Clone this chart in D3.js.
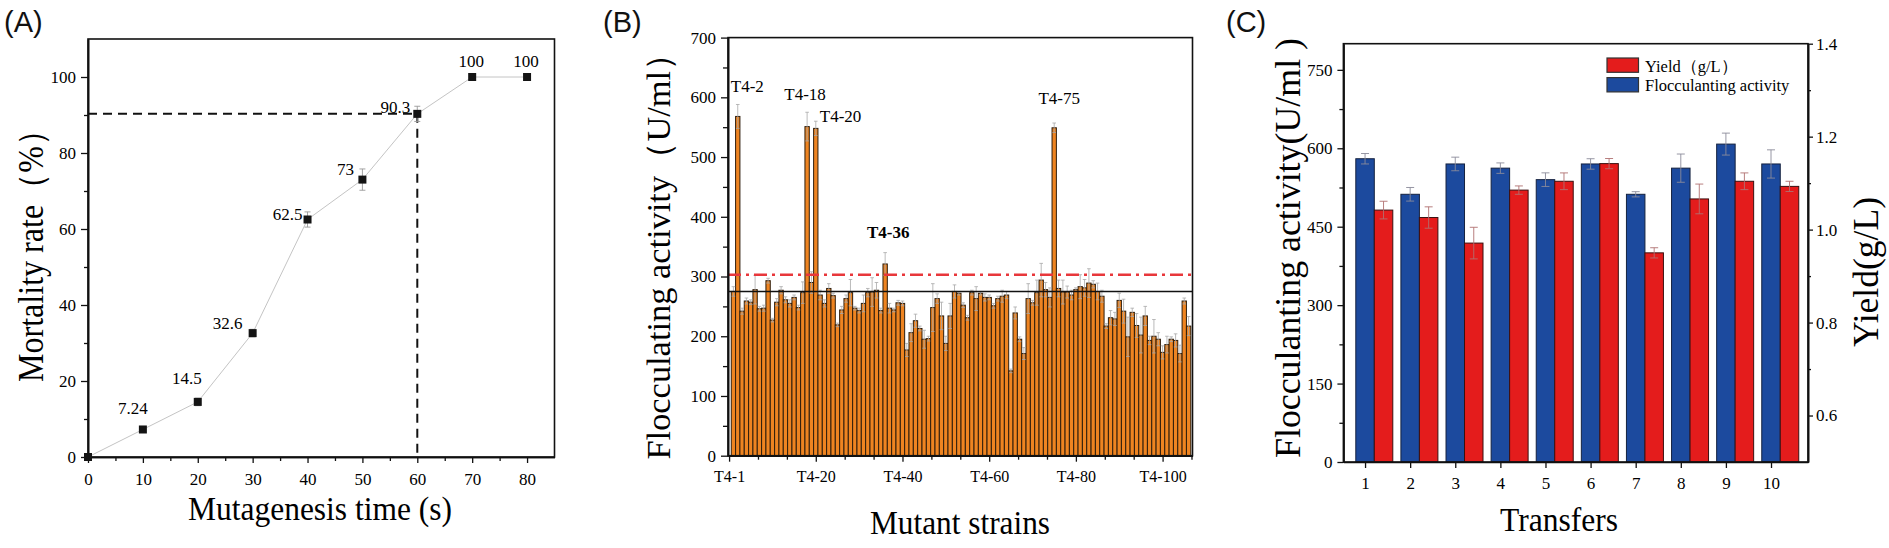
<!DOCTYPE html>
<html><head><meta charset="utf-8">
<script src="https://cdn.jsdelivr.net/npm/d3@7"></script>
<style>
body{margin:0;background:#fff}
svg{display:block}
text{font-family:"Liberation Serif","Times New Roman",serif;fill:#000}
.axis text{font-size:17px}
.axis .domain{stroke:#111;stroke-width:1.6}
.axis line{stroke:#111;stroke-width:1.3}
.plab{font-family:"Liberation Sans",Arial,sans-serif;font-size:29px;fill:#111}
</style>
</head><body>
<svg id="c" width="1889" height="548"></svg>
<script>
// ---------- Panel A data ----------
const mutaTime = [0, 10, 20, 30, 40, 50, 60, 70, 80];
const mortality = [0, 7.24, 14.5, 32.6, 62.5, 73, 90.3, 100, 100];
const mortalityErr = [0.5, 0.8, 1, 1, 2, 2.8, 2, 0.6, 0.6];
const mortalityLabels = ["", "7.24", "14.5", "32.6", "62.5", "73", "90.3", "100", "100"];
const xTicksA = [0, 10, 20, 30, 40, 50, 60, 70, 80];
const yTicksA = [0, 20, 40, 60, 80, 100];
const cutoffTime = 60;

// ---------- Panel B data ----------
const strainActivity = [
  275, 568, 242, 259, 257, 278, 246, 247, 293, 227,
  257, 277, 261, 255, 265, 248, 273, 551, 290, 548,
  269, 255, 280, 268, 219, 244, 263, 273, 247, 243,
  255, 273, 274, 277, 243, 321, 247, 244, 256, 255,
  177, 206, 226, 213, 195, 196, 248, 263, 234, 188,
  234, 275, 272, 252, 231, 273, 263, 272, 265, 265,
  251, 263, 267, 269, 142, 239, 195, 171, 263, 256,
  273, 294, 278, 265, 549, 280, 274, 274, 269, 278,
  283, 281, 289, 287, 275, 267, 217, 231, 229, 260,
  242, 199, 240, 218, 202, 234, 193, 200, 195, 173,
  186, 195, 193, 171, 259, 217];
const strainErr = [
  8, 20, 5, 5, 4, 24, 4, 5, 4, 3,
  6, 6, 5, 6, 4, 4, 18, 24, 18, 12,
  8, 6, 8, 4, 3, 6, 6, 22, 3, 4,
  14, 7, 24, 13, 4, 19, 8, 3, 4, 4,
  11, 15, 11, 4, 15, 4, 40, 8, 23, 12,
  21, 11, 3, 4, 4, 4, 20, 3, 6, 4,
  4, 4, 10, 6, 3, 10, 4, 10, 25, 4,
  21, 28, 12, 16, 8, 14, 20, 10, 8, 3,
  20, 14, 24, 6, 14, 10, 4, 12, 11, 12,
  20, 33, 7, 20, 30, 16, 7, 28, 11, 11,
  14, 4, 11, 14, 5, 16];
const strainTickPos = [0, 20, 40, 60, 80, 100];
const strainTickLabels = ["T4-1", "T4-20", "T4-40", "T4-60", "T4-80", "T4-100"];
const yTicksB = [0, 100, 200, 300, 400, 500, 600, 700];
const highlightStrains = [2, 18, 20, 36, 75];
const highlightLabels = ["T4-2", "T4-18", "T4-20", "T4-36", "T4-75"];
const selectLine = 303;   // red dash-dot line
const originalLine = 275; // black line

// ---------- Panel C data ----------
const transfers = [1, 2, 3, 4, 5, 6, 7, 8, 9, 10];
const transferActivity = [580, 512, 570, 562, 540, 570, 512, 562, 608, 570];
const transferActivityErr = [10, 13, 13, 10, 13, 10, 5, 27, 21, 27];
const transferYield = [1.042, 1.026, 0.971, 1.085, 1.104, 1.142, 0.950, 1.066, 1.104, 1.093];
const transferYieldErr = [0.019, 0.023, 0.034, 0.009, 0.018, 0.011, 0.011, 0.032, 0.018, 0.011];
const yTicksCL = [0, 150, 300, 450, 600, 750];
const yTicksCR = [0.6, 0.8, 1.0, 1.2, 1.4];
const legendLabels = ["Yield（g/L）", "Flocculanting activity"];

// ---------- Drawing ----------
const svg = d3.select("#c");
const fmt = d3.format("d");

function frame(g, x, y) {
  g.append("rect")
    .attr("x", x.range()[0]).attr("y", y.range()[1])
    .attr("width", x.range()[1] - x.range()[0])
    .attr("height", y.range()[0] - y.range()[1])
    .attr("fill", "none").attr("stroke", "#111").attr("stroke-width", 1.6);
}
function errBar(g, cx, yTop, yBot, cap, color, w) {
  g.append("line").attr("x1", cx).attr("x2", cx).attr("y1", yTop).attr("y2", yBot)
    .attr("stroke", color).attr("stroke-width", w);
  g.append("line").attr("x1", cx - cap).attr("x2", cx + cap).attr("y1", yTop).attr("y2", yTop)
    .attr("stroke", color).attr("stroke-width", w);
  g.append("line").attr("x1", cx - cap).attr("x2", cx + cap).attr("y1", yBot).attr("y2", yBot)
    .attr("stroke", color).attr("stroke-width", w);
}

// ===== Panel A =====
{
  const x = d3.scaleLinear().domain([0, 85]).range([88, 554.5]);
  const y = d3.scaleLinear().domain([0, 110]).range([457, 39]);
  const g = svg.append("g");
  g.append("text").attr("class", "plab").attr("x", 4).attr("y", 32).text("(A)");

  const xMinor = d3.range(5, 85, 10);
  const yMinor = d3.range(10, 110, 20);
  g.append("g").attr("class", "axis").attr("transform", `translate(0,${y(0)})`)
    .call(d3.axisBottom(x).tickValues(xMinor).tickSize(4).tickFormat("").tickSizeOuter(0));
  g.append("g").attr("class", "axis").attr("transform", `translate(${x(0)},0)`)
    .call(d3.axisLeft(y).tickValues(yMinor).tickSize(4).tickFormat("").tickSizeOuter(0));
  g.append("g").attr("class", "axis").attr("transform", `translate(0,${y(0)})`)
    .call(d3.axisBottom(x).tickValues(xTicksA).tickSize(6).tickPadding(10).tickFormat(fmt).tickSizeOuter(0));
  g.append("g").attr("class", "axis").attr("transform", `translate(${x(0)},0)`)
    .call(d3.axisLeft(y).tickValues(yTicksA).tickSize(7).tickPadding(5).tickFormat(fmt).tickSizeOuter(0));
  frame(g, x, y);

  const idx = d3.range(mutaTime.length);
  const cut = mutaTime.indexOf(cutoffTime);
  g.append("line").attr("x1", x(0)).attr("x2", x(cutoffTime))
    .attr("y1", y(mortality[cut])).attr("y2", y(mortality[cut]))
    .attr("stroke", "#111").attr("stroke-width", 2).attr("stroke-dasharray", "9,6");
  g.append("line").attr("x1", x(cutoffTime)).attr("x2", x(cutoffTime))
    .attr("y1", y(mortality[cut])).attr("y2", y(0))
    .attr("stroke", "#111").attr("stroke-width", 2).attr("stroke-dasharray", "9,6");

  g.append("path").datum(idx)
    .attr("d", d3.line().x(i => x(mutaTime[i])).y(i => y(mortality[i])))
    .attr("fill", "none").attr("stroke", "#c4c4c4").attr("stroke-width", 1);
  idx.forEach(i => errBar(g, x(mutaTime[i]), y(mortality[i] + mortalityErr[i]), y(mortality[i] - mortalityErr[i]), 3, "#999", 0.9));
  g.selectAll("rect.pt").data(idx).join("rect").attr("class", "pt")
    .attr("x", i => x(mutaTime[i]) - 4).attr("y", i => y(mortality[i]) - 4)
    .attr("width", 8).attr("height", 8).attr("fill", "#141414");

  // label placement offsets (layout)
  const lab = [[0,0],[-10,-15],[-11,-18],[-25,-4],[-20,0],[-17,-5],[-22,-1],[-1,-10],[-1,-10]];
  g.selectAll("text.vl").data(idx.filter(i => mortalityLabels[i])).join("text").attr("class", "vl")
    .attr("x", i => x(mutaTime[i]) + lab[i][0]).attr("y", i => y(mortality[i]) + lab[i][1])
    .attr("text-anchor", "middle").style("font-size", "17px").text(i => mortalityLabels[i]);

  g.append("text").attr("transform", `translate(43,${(y.range()[0] + y.range()[1]) / 2}) rotate(-90)`)
    .attr("text-anchor", "middle").style("font-size", "35px")
    .attr("textLength", 268).attr("lengthAdjust", "spacingAndGlyphs")
    .text("Mortality rate（%）");
  g.append("text").attr("x", 320).attr("y", 520).attr("text-anchor", "middle")
    .style("font-size", "34px").attr("textLength", 264).attr("lengthAdjust", "spacingAndGlyphs")
    .text("Mutagenesis time (s)");
}

// ===== Panel B =====
{
  const x = d3.scaleLinear().domain([-0.25, 106.9]).range([728, 1192.5]);
  const y = d3.scaleLinear().domain([0, 700]).range([455.7, 37.6]);
  const g = svg.append("g");
  g.append("text").attr("class", "plab").attr("x", 603).attr("y", 32).text("(B)");

  const n = strainActivity.length;
  const ids = d3.range(1, n + 1);
  g.selectAll("rect.bar").data(ids).join("rect").attr("class", "bar")
    .attr("x", k => x(k - 0.5)).attr("width", k => x(k + 0.5) - x(k - 0.5))
    .attr("y", k => y(strainActivity[k - 1])).attr("height", k => y(0) - y(strainActivity[k - 1]))
    .attr("fill", "#ee8421").attr("stroke", "#2e1d0c").attr("stroke-width", 1);
  ids.forEach(k => {
    const v = strainActivity[k - 1], e = strainErr[k - 1];
    errBar(g, x(k), y(v + e), y(v - e), 1.8, "#a8a8a8", 0.8);
  });

  g.append("line").attr("x1", x.range()[0]).attr("x2", x.range()[1])
    .attr("y1", y(selectLine)).attr("y2", y(selectLine))
    .attr("stroke", "#e8373b").attr("stroke-width", 2.6).attr("stroke-dasharray", "13,5,3,5");
  g.append("line").attr("x1", x.range()[0]).attr("x2", x.range()[1])
    .attr("y1", y(originalLine)).attr("y2", y(originalLine))
    .attr("stroke", "#111").attr("stroke-width", 1.5);

  const xMinor = d3.range(0, 107, 20 / 3).filter(v => !strainTickPos.some(t => Math.abs(t - v) < 0.01));
  const yMinor = d3.range(50, 700, 100);
  g.append("g").attr("class", "axis").attr("transform", `translate(0,${y(0)})`)
    .call(d3.axisBottom(x).tickValues(xMinor).tickSize(4).tickFormat("").tickSizeOuter(0));
  g.append("g").attr("class", "axis").attr("transform", `translate(${x.range()[0]},0)`)
    .call(d3.axisLeft(y).tickValues(yMinor).tickSize(5).tickFormat("").tickSizeOuter(0));
  g.append("g").attr("class", "axis").attr("transform", `translate(0,${y(0)})`)
    .call(d3.axisBottom(x).tickValues(strainTickPos).tickSize(6).tickPadding(9)
      .tickFormat((d, i) => strainTickLabels[i]).tickSizeOuter(0))
    .selectAll("text").style("font-size", "16px");
  g.append("g").attr("class", "axis").attr("transform", `translate(${x.range()[0]},0)`)
    .call(d3.axisLeft(y).tickValues(yTicksB).tickSize(7).tickPadding(5).tickFormat(fmt).tickSizeOuter(0));
  frame(g, x, y);

  // annotation offsets (layout): dx from bar centre, dy from bar top, anchor
  const ann = [[-7, -24, "start"], [-2, -27, "middle"], [4, -6, "start"], [3, -26, "middle"], [5, -24, "middle"]];
  highlightStrains.forEach((k, i) => {
    g.append("text").attr("x", x(k) + ann[i][0]).attr("y", y(strainActivity[k - 1]) + ann[i][1])
      .attr("text-anchor", ann[i][2]).style("font-size", "17px")
      .style("font-weight", k === 36 ? "bold" : "normal").text(highlightLabels[i]);
  });

  g.append("text").attr("transform", `translate(670,248) rotate(-90)`)
    .attr("text-anchor", "middle").style("font-size", "34px")
    .attr("textLength", 423).attr("lengthAdjust", "spacingAndGlyphs")
    .text("Flocculating activity（U/ml）");
  g.append("text").attr("x", 960).attr("y", 534).attr("text-anchor", "middle")
    .style("font-size", "34px").attr("textLength", 180).attr("lengthAdjust", "spacingAndGlyphs")
    .text("Mutant strains");
}

// ===== Panel C =====
{
  const x = d3.scaleLinear().domain([0.52, 10.82]).range([1343.4, 1808]);
  const yL = d3.scaleLinear().domain([0, 800]).range([462, 43.7]);
  const yR = d3.scaleLinear().domain([0.5, 1.4]).range([462, 43.7]);
  const g = svg.append("g");
  g.append("text").attr("class", "plab").attr("x", 1226).attr("y", 32).text("(C)");

  const bw = 0.41;
  const blue = "#1c4a9e", red = "#e41c1c";
  g.selectAll("rect.b").data(transfers).join("rect").attr("class", "b")
    .attr("x", (d) => x(d - bw / 2)).attr("width", x(bw) - x(0))
    .attr("y", (d, i) => yL(transferActivity[i])).attr("height", (d, i) => yL(0) - yL(transferActivity[i]))
    .attr("fill", blue).attr("stroke", "#15223f").attr("stroke-width", 1);
  g.selectAll("rect.r").data(transfers).join("rect").attr("class", "r")
    .attr("x", (d) => x(d + bw / 2)).attr("width", x(bw) - x(0))
    .attr("y", (d, i) => yR(transferYield[i])).attr("height", (d, i) => yR(0.5) - yR(transferYield[i]))
    .attr("fill", red).attr("stroke", "#3a1010").attr("stroke-width", 1);
  transfers.forEach((d, i) => {
    errBar(g, x(d), yL(transferActivity[i] + transferActivityErr[i]), yL(transferActivity[i] - transferActivityErr[i]), 4, "#8b8b9a", 0.9);
    errBar(g, x(d + bw), yR(transferYield[i] + transferYieldErr[i]), yR(transferYield[i] - transferYieldErr[i]), 4, "#b07070", 0.9);
  });

  const yMinorL = d3.range(75, 800, 150);
  const yMinorR = [0.7, 0.9, 1.1, 1.3];
  g.append("g").attr("class", "axis").attr("transform", `translate(${x.range()[0]},0)`)
    .call(d3.axisLeft(yL).tickValues(yMinorL).tickSize(4).tickFormat("").tickSizeOuter(0));
  g.append("g").attr("class", "axis").attr("transform", `translate(${x.range()[1]},0)`)
    .call(d3.axisRight(yR).tickValues(yMinorR).tickSize(3).tickFormat("").tickSizeOuter(0));
  g.append("g").attr("class", "axis").attr("transform", `translate(0,${yL(0)})`)
    .call(d3.axisBottom(x).tickValues(transfers).tickSize(6).tickPadding(9).tickFormat(fmt).tickSizeOuter(0));
  g.append("g").attr("class", "axis").attr("transform", `translate(${x.range()[0]},0)`)
    .call(d3.axisLeft(yL).tickValues(yTicksCL).tickSize(6).tickPadding(5).tickFormat(fmt).tickSizeOuter(0));
  g.append("g").attr("class", "axis").attr("transform", `translate(${x.range()[1]},0)`)
    .call(d3.axisRight(yR).tickValues(yTicksCR).tickSize(5).tickPadding(3).tickFormat(d3.format(".1f")).tickSizeOuter(0));
  frame(g, x, yL);

  // legend
  const lg = g.append("g").attr("transform", "translate(1607,58)");
  [red, blue].forEach((c, i) => {
    lg.append("rect").attr("x", 0).attr("y", i * 19.6).attr("width", 31.5).attr("height", 14.3)
      .attr("fill", c).attr("stroke", "#333").attr("stroke-width", 1.2);
    lg.append("text").attr("x", 38).attr("y", i * 19.6 + 13.5).style("font-size", "16.5px")
      .text(legendLabels[i]);
  });

  g.append("text").attr("transform", `translate(1300,248) rotate(-90)`)
    .attr("text-anchor", "middle").style("font-size", "35px")
    .attr("textLength", 420).attr("lengthAdjust", "spacingAndGlyphs")
    .text("Flocculanting activity(U/ml )");
  g.append("text").attr("transform", `translate(1878,272) rotate(-90)`)
    .attr("text-anchor", "middle").style("font-size", "35px")
    .attr("textLength", 150).attr("lengthAdjust", "spacingAndGlyphs")
    .text("Yield(g/L)");
  g.append("text").attr("x", 1559).attr("y", 531).attr("text-anchor", "middle")
    .style("font-size", "34px").attr("textLength", 118).attr("lengthAdjust", "spacingAndGlyphs")
    .text("Transfers");
}
</script>
</body></html>
